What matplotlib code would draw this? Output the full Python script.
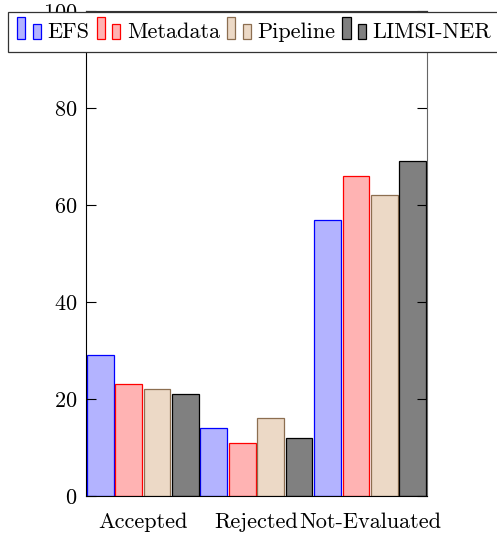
import matplotlib.pyplot as plt
import numpy as np
from matplotlib.patches import Rectangle
from matplotlib.legend_handler import HandlerBase

plt.rcParams['font.family'] = ['cmr10', 'DejaVu Serif']
plt.rcParams['axes.formatter.use_mathtext'] = True

categories = ['Accepted', 'Rejected', 'Not-Evaluated']
series = ['EFS', 'Metadata', 'Pipeline', 'LIMSI-NER']
efs = [29, 14, 57]
metadata = [23, 11, 66]
pipeline = [22, 16, 62]
limsi = [21, 12, 69]
values = [efs, metadata, pipeline, limsi]

fills = [(0.7, 0.7, 1.0), (1.0, 0.7, 0.7), (0.925, 0.85, 0.775), (0.5, 0.5, 0.5)]
edges = ['blue', 'red', '#8c6e50', 'black']


class TwoBars(HandlerBase):
    # pgfplots style legend icon: two small bars
    def create_artists(self, legend, orig, xd, yd, w, h, fs, trans):
        fc = orig.get_facecolor()
        ec = orig.get_edgecolor()
        y0 = yd - 0.1 * h
        a = Rectangle((xd, y0), w * 0.33, h * 1.15, fc=fc, ec=ec, lw=0.9, transform=trans)
        b = Rectangle((xd + w * 0.64, y0), w * 0.33, h * 0.8, fc=fc, ec=ec, lw=0.9, transform=trans)
        return [a, b]


fig = plt.figure(figsize=(4.97, 5.39), dpi=100)
ax = fig.add_axes([0.173, 0.0798, 0.686, 0.8998])

x = np.arange(len(categories))
step = 0.25
width = 0.235
handles = []
for i, vals in enumerate(values):
    bars = ax.bar(x - 0.375 + i * step, vals, width, color=fills[i], edgecolor=edges[i],
                  linewidth=0.9, label=series[i])
    handles.append(bars[0])

ax.set_xlim(-0.5, 2.5)
ax.set_ylim(0, 100)
ax.set_yticks([0, 20, 40, 60, 80, 100])
ax.set_xticks(x)
ax.set_xticklabels(categories)
ax.tick_params(axis='x', length=0, labelsize=16, pad=12)
ax.tick_params(axis='y', direction='in', length=7, labelsize=16, right=True, width=0.8, pad=6)
for s in ['left', 'bottom']:
    ax.spines[s].set_color('black')
ax.spines['right'].set_color('#666666')
ax.spines['top'].set_color('#333333')

leg = fig.legend(handles, series, loc='upper left', bbox_to_anchor=(8 / 497, 1 - 12 / 539), ncol=4,
                 handler_map={h: TwoBars() for h in handles}, fontsize=16,
                 handlelength=1.1, handleheight=0.9, handletextpad=0.25, columnspacing=0.33,
                 fancybox=False, edgecolor='#333333', framealpha=1, borderpad=0.42,
                 borderaxespad=0)
leg.get_frame().set_linewidth(0.9)

fig.savefig('out.png', dpi=100)
